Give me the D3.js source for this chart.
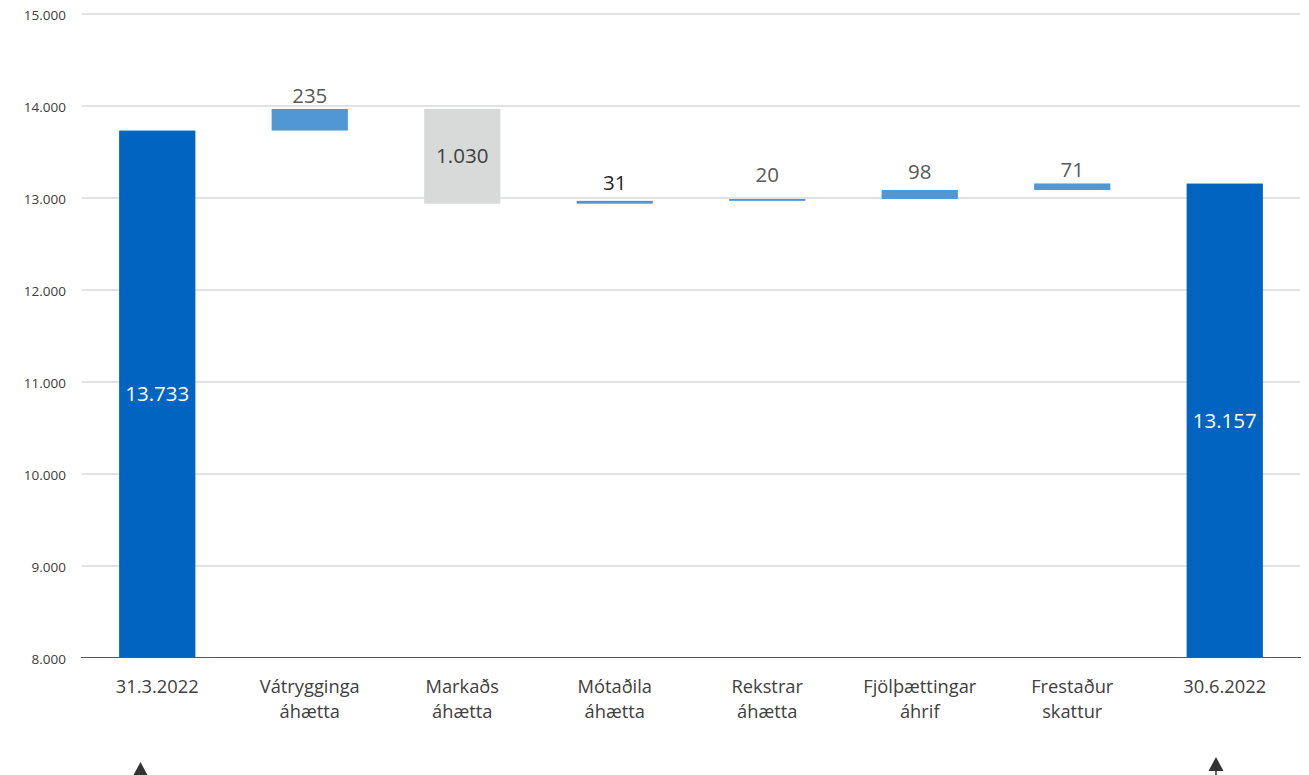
<!DOCTYPE html>
<html><head><meta charset="utf-8">
<script src="https://cdn.jsdelivr.net/npm/d3@7"></script>
<style>body{margin:0;background:#fff;} svg{display:block;font-family:"Open Sans",sans-serif;}</style>
</head><body>
<svg id="chart" width="1309" height="775"></svg>
<script>
// ---- data ----
const categories = [["31.3.2022"],["Vátrygginga","áhætta"],["Markaðs","áhætta"],["Mótaðila","áhætta"],["Rekstrar","áhætta"],["Fjölþættingar","áhrif"],["Frestaður","skattur"],["30.6.2022"]];
const values = [13733, 235, -1030, 31, 20, 98, 71, 13157];
const kinds = ["total","delta","delta","delta","delta","delta","delta","total"];
const valueLabels = ["13.733","235","1.030","31","20","98","71","13.157"];
const yTicks = [8000, 9000, 10000, 11000, 12000, 13000, 14000, 15000];
const yTickLabels = ["8.000","9.000","10.000","11.000","12.000","13.000","14.000","15.000"];
// ---- layout/style ----
const labelGap = [0, 6, 0, 11, 17, 11, 6, 0];
const labelColors = ["#fff","#595959","#404040","#262626","#595959","#595959","#595959","#fff"];

const svg = d3.select("#chart");
const x = d3.scaleBand().domain(d3.range(categories.length)).range([81, 1301]).paddingInner(0.5).paddingOuter(0.25);
const y = d3.scaleLinear().domain([8000, 15000]).range([658, 14]);

// gridlines
svg.append("g").selectAll("line").data(yTicks.slice(1)).join("line")
  .attr("x1", 82).attr("x2", 1300).attr("y1", d => y(d)).attr("y2", d => y(d))
  .attr("stroke", "#d9d9d9").attr("stroke-width", 1.5);

// y axis labels
const yAxis = d3.axisLeft(y).tickValues(yTicks).tickFormat((d,i) => yTickLabels[i]).tickSize(0).tickPadding(0);
const ya = svg.append("g").attr("transform", "translate(66,1)").call(yAxis);
ya.select(".domain").remove();
ya.selectAll("text").attr("font-size", 13.5).attr("fill", "#404040").attr("font-family", "Open Sans");

// waterfall bars
let run = 0;
const bars = values.map((v, i) => {
  let lo, hi, color;
  if (kinds[i] === "total") { lo = 8000; hi = v; run = v; color = "#0064c0"; }
  else { const s = run; run += v; lo = Math.min(s, run); hi = Math.max(s, run); color = v < 0 ? "#d8d9d9" : "#5097d5"; }
  return {i, lo, hi, color, v};
});
svg.append("g").selectAll("rect").data(bars).join("rect")
  .attr("x", d => x(d.i)).attr("width", x.bandwidth())
  .attr("y", d => y(d.hi)).attr("height", d => Math.max(y(d.lo) - y(d.hi), 1))
  .attr("fill", d => d.color);

// value labels
svg.append("g").selectAll("text").data(bars).join("text")
  .attr("x", d => x(d.i) + x.bandwidth() / 2)
  .attr("y", d => (kinds[d.i] === "total" || d.v < 0) ? (y(d.hi) + y(d.lo)) / 2 : y(d.hi) - labelGap[d.i])
  .attr("dy", d => (kinds[d.i] === "total" || d.v < 0) ? "0.35em" : 0)
  .attr("text-anchor", "middle").attr("font-size", 20.5)
  .attr("fill", d => labelColors[d.i])
  .text(d => valueLabels[d.i]);

// x axis line
svg.append("line").attr("x1", 81).attr("x2", 1301).attr("y1", 657.5).attr("y2", 657.5)
  .attr("stroke", "#595959").attr("stroke-width", 1.2);

// category labels
const cg = svg.append("g").selectAll("text").data(categories).join("text")
  .attr("x", (d, i) => x(i) + x.bandwidth() / 2).attr("y", 692.5)
  .attr("text-anchor", "middle").attr("font-size", 18.3).attr("fill", "#404040");
cg.selectAll("tspan").data(d => d).join("tspan")
  .attr("x", function() { return d3.select(this.parentNode).attr("x"); })
  .attr("dy", (d, j) => j === 0 ? 0 : 25).text(d => d);

// arrows
[{cx: 140.5, tip: 762}, {cx: 1216, tip: 757}].forEach(a => {
  svg.append("line").attr("x1", a.cx).attr("x2", a.cx).attr("y1", 800).attr("y2", a.tip + 8)
    .attr("stroke", "#333").attr("stroke-width", 1.5);
  svg.append("path").attr("d", `M${a.cx - 7.5},${a.tip + 14} L${a.cx},${a.tip} L${a.cx + 7.5},${a.tip + 14} Z`).attr("fill", "#333");
});
</script>
</body></html>
